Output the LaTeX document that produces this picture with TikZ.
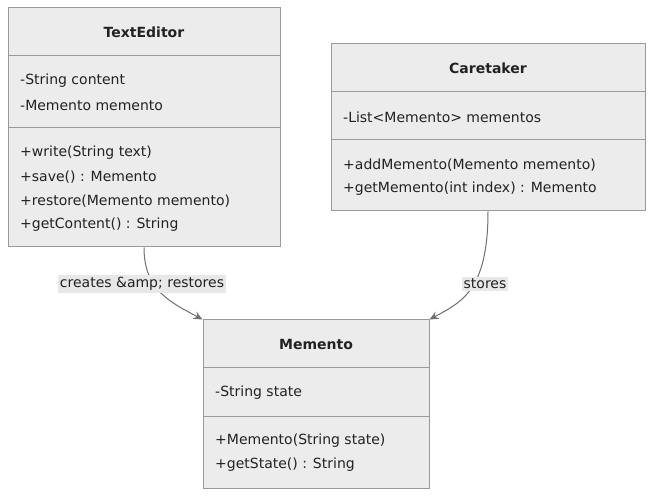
\documentclass[tikz,border=0pt]{standalone}
\usepackage{fontspec}
\setmainfont{DejaVu Sans}
\usetikzlibrary{arrows.meta}
\definecolor{boxfill}{HTML}{ECECEC}
\definecolor{boxline}{HTML}{9A9A9A}
\definecolor{edgecol}{HTML}{707070}
\definecolor{lblfill}{HTML}{E8E8E8}
\definecolor{txt}{HTML}{222222}
\begin{document}
\begin{tikzpicture}[x=1pt,y=-1pt,
  classbox/.style={draw=boxline,fill=boxfill,line width=1pt,inner sep=0pt},
  divider/.style={draw=boxline,line width=1pt},
  title/.style={font=\fontsize{14}{16}\selectfont\bfseries,text=txt,inner sep=0pt},
  member/.style={font=\fontsize{14}{16}\selectfont,text=txt,anchor=west,inner sep=0pt},
  edge/.style={draw=edgecol,line width=1pt,-{Stealth[length=9pt,width=8pt,inset=3pt]}},
  lbl/.style={font=\fontsize{14}{16}\selectfont,text=txt,fill=lblfill,inner xsep=2pt,inner ysep=2pt}]
\useasboundingbox (0,0) rectangle (654,497);
% TextEditor
\node[classbox,minimum width=272pt,minimum height=239pt] (te) at (144,127.5) {};
\draw[divider] (8,56) -- (280,56);
\draw[divider] (8,128) -- (280,128);
\node[title] (tet) at (144,32) {TextEditor};
\node[member] (tea1) at (20,81) {-String content};
\node[member] (tea2) at (20,105) {-Memento memento};
\node[member] (tem1) at (20,153) {+write(String text)};
\node[member] (tem2) at (20,177) {+save() : Memento};
\node[member] (tem3) at (20,201) {+restore(Memento memento)};
\node[member] (tem4) at (20,225) {+getContent() : String};
% Caretaker
\node[classbox,minimum width=314pt,minimum height=167pt] (ct) at (488,127.5) {};
\draw[divider] (331,92) -- (645,92);
\draw[divider] (331,140) -- (645,140);
\node[title] (ctt) at (488,68) {Caretaker};
\node[member] (cta1) at (343,117) {-List<Memento> mementos};
\node[member] (ctm1) at (343,165) {+addMemento(Memento memento)};
\node[member] (ctm2) at (343,189) {+getMemento(int index) : Memento};
% Memento
\node[classbox,minimum width=226pt,minimum height=168pt] (me) at (316,404) {};
\draw[divider] (203,368) -- (429,368);
\draw[divider] (203,416) -- (429,416);
\node[title] (met) at (316,344) {Memento};
\node[member] (mea1) at (215,393) {-String state};
\node[member] (mem1) at (215,441) {+Memento(String state)};
\node[member] (mem2) at (215,465) {+getState() : String};
% edges
\draw[edge] (te.south) .. controls (144,290) and (170,302) .. (me.north west);
\draw[edge] (ct.south) .. controls (488,290) and (462,302) .. (me.north east);
\node[lbl] (l1) at (142,284) {creates \&amp; restores};
\node[lbl] (l2) at (485,284) {stores};
\end{tikzpicture}
\end{document}
